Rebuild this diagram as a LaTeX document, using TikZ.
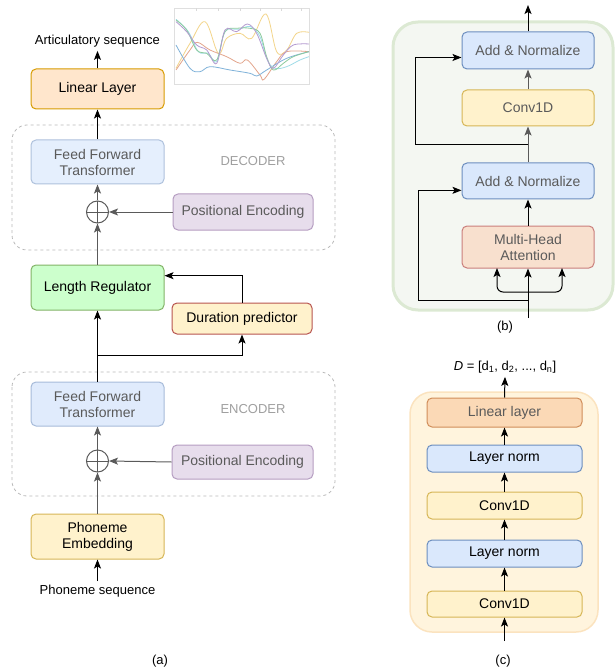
\documentclass[tikz,border=0pt]{standalone}
\usepackage{fontspec}
\setmainfont{Liberation Sans}
\usetikzlibrary{arrows.meta}

\definecolor{blueF}{HTML}{DAE8FC}   \definecolor{blueS}{HTML}{6C8EBF}
\definecolor{yelF}{HTML}{FFF2CC}    \definecolor{yelS}{HTML}{D6B656}
\definecolor{orF}{HTML}{FFE6CC}     \definecolor{orS}{HTML}{D79B00}
\definecolor{purF}{HTML}{E1D5E7}    \definecolor{purS}{HTML}{9673A6}
\definecolor{grnF}{HTML}{CCFFCC}    \definecolor{grnS}{HTML}{82B366}
\definecolor{redS}{HTML}{B85450}
\definecolor{mhaF}{HTML}{F8E0CE}    \definecolor{linF}{HTML}{FBD9B6}
\definecolor{fadeT}{HTML}{5A5A5A}
\definecolor{bgB}{HTML}{F4F7F2}     \definecolor{bgBS}{HTML}{DCE9D3}
\definecolor{bgC}{HTML}{FFF4DD}     \definecolor{bgCS}{HTML}{FBE3BF}
% trajectory colours
\definecolor{trY}{HTML}{F3D58A}     \definecolor{trO}{HTML}{E3A58C}
\definecolor{trB}{HTML}{7FB2D9}     \definecolor{trC}{HTML}{9FDCE8}
\definecolor{trG}{HTML}{8CCB9C}     \definecolor{trP}{HTML}{B49BD0}

\newcommand{\boxfont}{\fontsize{14}{16}\selectfont}
\newcommand{\lblfont}{\fontsize{13}{15}\selectfont}

\begin{document}
\begin{tikzpicture}[x=1pt, y=-1pt, line width=1pt,
  blk/.style={draw, rounded corners=5pt, align=center, inner sep=0pt, font=\boxfont},
  fade/.style={text=fadeT},
  con/.style={-{Stealth[length=9pt,width=7pt,inset=2pt]}},
  grp/.style={draw=gray!55, dashed, rounded corners=15pt, line width=0.8pt},
  sumc/.style={draw=fadeT, circle, minimum size=22pt, inner sep=0pt,
    path picture={\draw[fadeT] (path picture bounding box.north) -- (path picture bounding box.south)
      (path picture bounding box.west) -- (path picture bounding box.east);}}]
\useasboundingbox (0,0) rectangle (615,668);

%=== (a): whole model ===
% Encoder / decoder frames
\draw[grp] (12,125) rectangle (335,250);
\draw[grp] (12,372) rectangle (335,496);
\node[text=gray!75,font=\lblfont] (declbl) at (253,161) {DECODER};
\node[text=gray!75,font=\lblfont] (enclbl) at (253,409) {ENCODER};

\node[blk,fill=orF,draw=orS,minimum width=133pt,minimum height=40pt] (lin) at (97.5,89) {Linear Layer};
\node[blk,fade,fill=blueF!70!white,draw=blueS!55!white,minimum width=133pt,minimum height=44pt] (dfft) at (97.5,162) {Feed Forward\\Transformer};
\node[sumc] (dsum) at (97.5,212) {};
\node[blk,fade,fill=purF!80!white,draw=purS!70!white,minimum width=140pt,minimum height=36pt] (dpe) at (243,212) {Positional Encoding};
\node[blk,fill=grnF,draw=grnS,minimum width=133pt,minimum height=45pt] (lr) at (97.5,287.5) {Length Regulator};
\node[blk,fill=yelF,draw=redS,minimum width=140pt,minimum height=31pt] (dp) at (242,318.5) {Duration predictor};
\node[blk,fade,fill=blueF!85!white,draw=blueS!60!white,minimum width=133pt,minimum height=44pt] (efft) at (97.5,404) {Feed Forward\\Transformer};
\node[sumc] (esum) at (97.5,461) {};
\node[blk,fade,fill=purF!80!white,draw=purS!70!white,minimum width=141pt,minimum height=34pt] (epe) at (242.5,462) {Positional Encoding};
\node[blk,fill=yelF,draw=yelS,minimum width=133pt,minimum height=45pt] (emb) at (97.5,536.5) {Phoneme\\Embedding};

\node[font=\lblfont] (aout) at (97.5,41) {Articulatory sequence};
\node[font=\lblfont] (ain) at (97.5,591) {Phoneme sequence};
\node[font=\lblfont] (capa) at (160,661) {(a)};

% connectors
\draw[con] (ain.north) -- (emb.south);
\draw[con,fadeT] (emb.north) -- (esum.south);
\draw[con,fadeT] (esum.north) -- (efft.south);
\draw[con,fadeT] (epe.west) -- (esum.east);
\draw[con] (efft.north) -- (lr.south);
\coordinate (split) at (97.5,355);
\draw[con] (split) -| (dp.south);
\draw[con] (dp.north) |- (lr.10);
\draw[con,fadeT] (lr.north) -- (dsum.south);
\draw[con,fadeT] (dsum.north) -- (dfft.south);
\draw[con,fadeT] (dpe.west) -- (dsum.east);
\draw[con] (dfft.north) -- (lin.south);
\draw[con] (lin.north) -- (aout.south);

% output trajectories
\draw[gray!25,fill=white,line width=0.8pt] (174,8) rectangle (309,84);
\begin{scope}[shift={(160,0)}, scale=1/3, line width=0.8pt]
  \foreach \xx in {110,175,240,300,365,425}
    \draw[gray!30,line width=0.5pt] (\xx,25) -- (\xx,32);
  \draw[trY] plot[smooth,tension=0.6] coordinates {(48,205) (90,130) (135,65) (175,160) (200,115) (240,100) (275,115) (318,42) (350,155) (380,150) (410,100) (447,97)};
  \draw[trO] plot[smooth,tension=0.6] coordinates {(48,210) (90,150) (112,127) (150,150) (200,170) (240,190) (262,180) (300,225) (312,238) (350,185) (380,155) (447,155)};
  \draw[trB] plot[smooth,tension=0.6] coordinates {(48,135) (90,205) (120,215) (150,200) (210,210) (270,220) (290,228) (320,210) (380,175) (447,155)};
  \draw[trC] plot[smooth,tension=0.6] coordinates {(48,58) (85,95) (115,155) (145,160) (170,185) (195,95) (235,88) (272,80) (300,110) (322,180) (345,205) (380,200) (420,180) (447,170)};
  \draw[trG] plot[smooth,tension=0.6] coordinates {(48,60) (80,90) (110,150) (140,160) (170,180) (195,95) (230,85) (270,85) (300,100) (320,170) (340,210) (370,190) (400,170) (447,155)};
  \draw[trP] plot[smooth,tension=0.6] coordinates {(48,65) (80,95) (110,135) (140,150) (170,190) (195,90) (230,95) (262,72) (290,100) (320,175) (340,205) (370,165) (400,135) (447,132)};
\end{scope}

%=== (b): FFT block ===
\draw[draw=bgBS,fill=bgB,line width=3pt,rounded corners=25pt] (393,22) rectangle (613,310);
\node[blk,fade,fill=blueF,draw=blueS,minimum width=132pt,minimum height=37pt] (ant) at (528,50.5) {Add \& Normalize};
\node[blk,fade,fill=yelF,draw=yelS,minimum width=132pt,minimum height=36pt] (conv) at (528,108) {Conv1D};
\node[blk,fade,fill=blueF,draw=blueS,minimum width=132pt,minimum height=36pt] (anl) at (528,181) {Add \& Normalize};
\node[blk,fade,fill=mhaF,draw=redS!75!white,minimum width=132pt,minimum height=42pt] (mha) at (528,247) {Multi-Head\\Attention};
\node[font=\lblfont] (capb) at (505,327) {(b)};

\coordinate (bin) at (528,318);
\coordinate (bout) at (528,5);
\draw[con] (bin) -- (mha.south);
\draw[con,rounded corners=6pt] (528,292) -| (497,268);
\draw[con,rounded corners=6pt] (528,292) -| (562,268);
\draw[con] (528,300) -- (418,300) |- (anl.188);
\draw[con] (mha.north) -- (anl.south);
\draw[con,fadeT] (anl.north) -- (conv.south);
\draw[con] (528,145) -- (415,145) |- (ant.186);
\draw[con,fadeT] (conv.north) -- (ant.south);
\draw[con] (ant.north) -- (bout);

%=== (c): duration predictor ===
\draw[draw=bgCS,fill=bgC,line width=1.5pt,rounded corners=22pt] (410,392) rectangle (598,632);
\node[blk,fade,fill=linF,draw=redS!60!orS!80!white,minimum width=155pt,minimum height=29pt] (clin) at (504.5,412.5) {Linear layer};
\node[blk,fill=blueF,draw=blueS,minimum width=155pt,minimum height=27pt] (cln1) at (504.5,458.5) {Layer norm};
\node[blk,fill=yelF,draw=yelS,minimum width=155pt,minimum height=27pt] (cconv1) at (504.5,505.5) {Conv1D};
\node[blk,fill=blueF,draw=blueS,minimum width=155pt,minimum height=27pt] (cln2) at (504.5,553.5) {Layer norm};
\node[blk,fill=yelF,draw=yelS,minimum width=155pt,minimum height=26pt] (cconv2) at (504.5,604) {Conv1D};
\node[font=\lblfont] (cout) at (505,367) {\textit{D} = [d\textsubscript{1}, d\textsubscript{2}, ..., d\textsubscript{n}]};
\node[font=\lblfont] (capc) at (503,661) {(c)};

\coordinate (cin) at (504.5,641);
\draw[con] (cin) -- (cconv2.south);
\draw[con] (cconv2.north) -- (cln2.south);
\draw[con] (cln2.north) -- (cconv1.south);
\draw[con] (cconv1.north) -- (cln1.south);
\draw[con] (cln1.north) -- (clin.south);
\draw[con] (clin.north) -- (cout.south);

\end{tikzpicture}
\end{document}
